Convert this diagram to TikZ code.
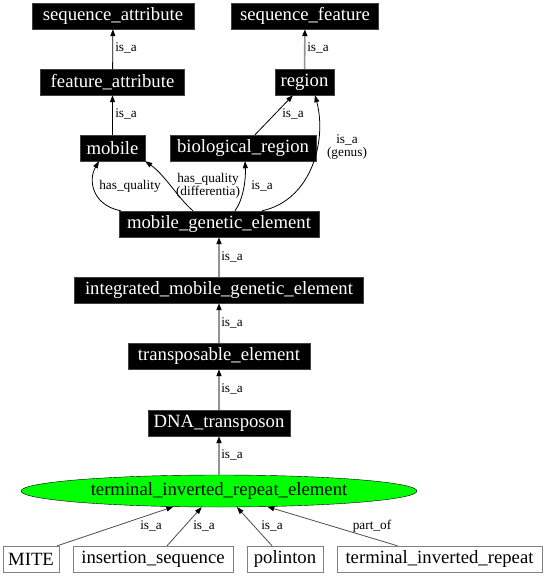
\documentclass[tikz,border=0pt]{standalone}
\usepackage{fontspec}
\setmainfont{Liberation Serif}
\usetikzlibrary{positioning,shapes.geometric,arrows.meta}

\begin{document}
\begin{tikzpicture}[x=1pt,y=-1pt,
  term/.style={fill=black, draw=black!75, text=white, minimum height=26pt, inner xsep=0pt, font=\fontsize{18.7}{20}\selectfont},
  leaf/.style={fill=white, draw=gray, minimum height=26pt, inner xsep=0pt, font=\fontsize{18.7}{20}\selectfont},
  lbl/.style={inner sep=0pt, align=center, font=\fontsize{13.3}{12.5}\selectfont},
  rel/.style={-{Triangle[length=7pt,width=5pt,color=black]}, line width=0.8pt},
  chain/.style={rel, draw=gray!85, line width=1.6pt},
  sub/.style={rel, draw=black!70}]
\useasboundingbox (0,0) rectangle (548,576);

% Row 1
\node[term, minimum width=162pt] (seqattr) at (113,16) {sequence\_attribute};
\node[term, minimum width=147pt] (seqfeat) at (305,16) {sequence\_feature};

% Row 2
\node[term, minimum width=144pt] (featattr) at (112.5,82) {feature\_attribute};
\node[term, minimum width=59pt] (region) at (304.5,82) {region};

% Row 3
\node[term, minimum width=65pt] (mobile) at (112.5,148) {mobile};
\node[term, minimum width=146pt] (bioreg) at (243,148) {biological\_region};

% Main chain
\node[term, minimum width=200pt] (mge) at (219,224) {mobile\_genetic\_element};
\node[term, minimum width=289pt] (imge) at (219,290) {integrated\_mobile\_genetic\_element};
\node[term, minimum width=182pt] (te) at (219,356) {transposable\_element};
\node[term, minimum width=142pt] (dnat) at (219,423) {DNA\_transposon};
\node[ellipse, draw=black, fill=green, minimum width=396pt, minimum height=32pt, inner sep=0pt,
  font=\fontsize{18.7}{20}\selectfont] (tire) at (219,491) {terminal\_inverted\_repeat\_element};

% Leaves
\node[leaf, minimum width=56pt] (mite) at (31,559) {MITE};
\node[leaf, minimum width=160pt] (inseq) at (153,559) {insertion\_sequence};
\node[leaf, minimum width=76pt] (polinton) at (285,559) {polinton};
\node[leaf, minimum width=205pt] (tir) at (439.5,559) {terminal\_inverted\_repeat};

% Upper edges
\draw[rel] (featattr) -- (seqattr);
\draw[chain] (region) -- (seqfeat);
\draw[rel] (mobile) -- (featattr);
\draw[rel] ([xshift=12pt]bioreg.north) -- ([xshift=-11.5pt]region.south);
\draw[rel] ([xshift=43pt]mge.north) .. controls (312,200) and (327,140) .. ([xshift=10.5pt]region.south);
\draw[rel] ([xshift=16pt]mge.north) .. controls (243,200) and (246,180) .. ([xshift=2pt]bioreg.south);
\draw[rel] ([xshift=2pt]mge.north west) .. controls (92,205) and (88,180) .. ([xshift=-13.5pt]mobile.south);
\draw[rel] ([xshift=-26pt]mge.north) .. controls (178,198) and (165,175) .. (mobile.south east);

\node[lbl] (l1) at (126,48) {is\_a};
\node[lbl] (l2) at (318,48) {is\_a};
\node[lbl] (l3) at (126,114) {is\_a};
\node[lbl] (l4) at (293,114) {is\_a};
\node[lbl] (l5) at (347,147) {is\_a\\(genus)};
\node[lbl] (l6) at (130,186) {has\_quality};
\node[lbl] (l7) at (208,186) {has\_quality\\(differentia)};
\node[lbl] (l8) at (262,186) {is\_a};

% Main chain edges
\draw[chain] (imge) -- (mge);
\draw[chain] (te) -- (imge);
\draw[chain] (dnat) -- (te);
\draw[chain] (tire) -- (dnat);
\node[lbl] (l9) at (232,257) {is\_a};
\node[lbl] (l10) at (232,323) {is\_a};
\node[lbl] (l11) at (232,389) {is\_a};
\node[lbl] (l12) at (232,455) {is\_a};

% Lower edges
\draw[sub] ([xshift=-2pt]mite.north east) -- (tire.199);
\draw[sub] ([xshift=14pt]inseq.north) -- (tire.223);
\draw[sub] ([xshift=-13pt]polinton.north) -- (tire.318);
\draw[sub] ([xshift=-42pt]tir.north) -- (tire.342);
\node[lbl] (l13) at (151,526) {is\_a};
\node[lbl] (l14) at (204,526) {is\_a};
\node[lbl] (l15) at (272,526) {is\_a};
\node[lbl] (l16) at (372,526) {part\_of};
\end{tikzpicture}
\end{document}
